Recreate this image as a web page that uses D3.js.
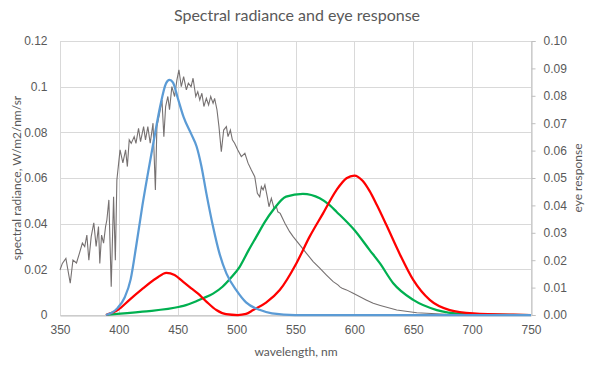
<!DOCTYPE html>
<meta charset="utf-8">
<title>Spectral radiance and eye response</title>
<style>
body {
  margin: 0px;
  background: #fff;
}
svg {
  font-family: Lato, "Open Sans", sans-serif;
}
.grid line {
  stroke: #d9d9d9;
  stroke-width: 1;
}
.tick text {
  fill: #595959;
  font-size: 12px;
}
.label {
  fill: #595959;
  font-size: 12px;
}
</style>

<script src="https://d3js.org/d3.v7.min.js"></script>

<body>
<script>
var width = 595, height = 368;
var margin = {top: 41, right: 64, bottom: 53, left: 60};

// solar spectrum, [wavelength nm, W/m2/nm/sr]
var radiance = [
  [350,0.0197],[352,0.0226],[355,0.0248],[358.7,0.0139],[361,0.0241],[364,0.0228],
  [366.6,0.0272],[369,0.0315],[371,0.030],[372.8,0.035],[374.5,0.024],[376.5,0.0343],
  [378.7,0.0404],[380.7,0.030],[382.7,0.0387],[383.8,0.0226],[385.3,0.035],[387,0.0315],
  [388.7,0.0387],[389.8,0.0416],[391.5,0.0504],[393.5,0.0124],[395.5,0.0518],[397,0.024],
  [398.3,0.0591],[399.5,0.065],[401,0.0723],[403.4,0.0666],[405.7,0.0723],[407.2,0.065],
  [408.8,0.0767],[410.5,0.0752],[411.8,0.0767],[413,0.0781],[414.5,0.0752],[416.7,0.0818],
  [418.4,0.0759],[421,0.0825],[422.6,0.0767],[424.6,0.0825],[426.6,0.0752],[429,0.084],
  [431,0.0548],[432.3,0.0825],[434.6,0.0884],[436.6,0.0942],[438.2,0.0781],[439.7,0.0913],
  [441.6,0.0957],[443,0.0899],[445,0.1],[447.3,0.0957],[449.3,0.103],[451,0.1074],
  [453,0.1],[455,0.1044],[457.3,0.0986],[459,0.1015],[461.3,0.1],[463,0.1037],
  [465.3,0.0957],[467,0.0978],[468.7,0.0942],[470.5,0.0971],[472.2,0.0913],[474.3,0.0949],
  [476.2,0.092],[478,0.0957],[480,0.0927],[481.3,0.0949],[483.3,0.0899],[485,0.0825],
  [487,0.0715],[489,0.081],[491.3,0.0825],[492.7,0.0781],[494.7,0.081],[496.4,0.0767],
  [498.3,0.0752],[501,0.0723],[504,0.0694],[507,0.0708],[509.7,0.0665],[512.5,0.0635],
  [515.4,0.0606],[517.6,0.0533],[519.6,0.0518],[521,0.0562],[522.5,0.0548],[524,0.057],
  [526,0.0518],[527.5,0.0474],[529.5,0.0511],[531.8,0.0467],[533.8,0.0474],[535,0.0452],
  [537,0.0445],[541,0.0402],[545,0.0365],[548,0.0343],[553.6,0.0307],[559.3,0.027],
  [565,0.0234],[570.6,0.0205],[576.3,0.0175],[582,0.0146],[586,0.0132],[588,0.0122],
  [589.6,0.0117],[593.3,0.011],[599,0.0095],[610,0.0066],[616,0.0051],[622,0.0042],
  [636,0.0022],[653,0.001],[678,0.0003],[707,0.0001],[740,0.0]
];

// eye response curves, [wavelength nm, response]
var blueResp = [
  [389,0],[394,0.0008],[399,0.0026],[405,0.0065],[410,0.013],[415,0.026],[420,0.040],
  [425,0.0525],[430,0.0645],[435,0.076],[440,0.0845],[443,0.0858],[446,0.0848],[450,0.0792],
  [455,0.0722],[461.5,0.066],[466,0.0615],[470,0.0545],[474.3,0.0444],[480,0.0322],
  [485.6,0.0222],[491.3,0.0152],[500,0.0089],[508,0.0046],[520,0.0018],[530,0.0006],
  [550,0],[750,0]
];
var redResp = [
  [389,0],[399,0.0018],[409,0.0055],[420.4,0.0097],[431.8,0.0134],[440.3,0.0154],
  [447.3,0.0146],[454.4,0.0122],[461.5,0.0097],[467,0.0079],[474.3,0.0049],[482.8,0.0018],
  [491,0.0003],[501,0],[508,0.0004],[514,0.0018],[525,0.0045],[536.6,0.0091],[550.8,0.0189],
  [562,0.0286],[573.4,0.0371],[584.8,0.0456],[593.3,0.0499],[600,0.0509],[607,0.0490],
  [613,0.0452],[619,0.0402],[627,0.0330],[638.6,0.0222],[650,0.0128],[664,0.0055],
  [681,0.0018],[701,0.0006],[735,0.0001],[750,0]
];
var greenResp = [
  [389,0],[420,0.0012],[451.6,0.003],[457,0.0036],[471.4,0.0061],[480,0.0078],[488,0.0103],
  [495,0.0135],[502.6,0.0176],[510,0.0235],[516.8,0.0286],[524,0.034],[531,0.0383],
  [542,0.0432],[556.3,0.0442],[570.6,0.0426],[579,0.0401],[584.8,0.0377],[600,0.031],
  [613,0.0237],[621.6,0.0189],[633,0.0116],[650,0.0055],[670,0.0018],[692,0.0004],
  [717,0.0001],[750,0]
];

var xTicks = d3.range(350, 751, 50);
var yLeftTicks = d3.range(0, 0.1201, 0.02);
var yRightTicks = d3.range(0, 0.1001, 0.01);

var svg = d3.select("body").append("svg")
    .attr("width", width)
    .attr("height", height);

var x = d3.scaleLinear().domain([350, 750]).range([margin.left, width - margin.right]);
var yL = d3.scaleLinear().domain([0, 0.12]).range([height - margin.bottom, margin.top]);
var yR = d3.scaleLinear().domain([0, 0.10]).range([height - margin.bottom, margin.top]);

// gridlines
var grid = svg.append("g").attr("class", "grid");
grid.selectAll("line.h")
    .data(yLeftTicks)
  .enter().append("line")
    .attr("x1", x(350)).attr("x2", x(750))
    .attr("y1", function(d) { return Math.round(yL(d)) + 0.5; })
    .attr("y2", function(d) { return Math.round(yL(d)) + 0.5; });
grid.selectAll("line.v")
    .data(xTicks)
  .enter().append("line")
    .attr("y1", yL(0)).attr("y2", yL(0.12))
    .attr("x1", function(d) { return Math.round(x(d)) + 0.5; })
    .attr("x2", function(d) { return Math.round(x(d)) + 0.5; });

// axes
var fmtL = function(d) { return d === 0 ? "0" : d3.format("~g")(+d.toFixed(2)); };
var axL = svg.append("g")
    .attr("transform", "translate(" + (margin.left - 0.5) + ",0)")
    .call(d3.axisLeft(yL).tickValues(yLeftTicks).tickSize(0).tickPadding(12).tickFormat(fmtL));
axL.select(".domain").remove();

var axR = svg.append("g")
    .attr("transform", "translate(" + (Math.round(x(750)) + 0.5) + ",0)")
    .call(d3.axisRight(yR).tickValues(yRightTicks).tickSize(4).tickPadding(8).tickFormat(d3.format(".2f")));
axR.select(".domain").attr("stroke", "#bfbfbf");
axR.selectAll(".tick line").attr("stroke", "#bfbfbf");

var axB = svg.append("g")
    .attr("transform", "translate(0," + (Math.round(yL(0)) + 0.5) + ")")
    .call(d3.axisBottom(x).tickValues(xTicks).tickSize(0).tickPadding(10));
axB.select(".domain").attr("stroke", "#bfbfbf");

// series
var lineL = d3.line()
    .x(function(d) { return x(d[0]); })
    .y(function(d) { return yL(d[1]); });
var lineR = d3.line()
    .curve(d3.curveMonotoneX)
    .x(function(d) { return x(d[0]); })
    .y(function(d) { return yR(d[1]); });

svg.append("path")
    .datum(radiance)
    .attr("d", lineL)
    .attr("fill", "none")
    .attr("stroke", "#767171")
    .attr("stroke-width", 1.1);

var eye = [[greenResp, "#00b050"], [redResp, "#ff0000"], [blueResp, "#5b9bd5"]];
svg.selectAll("path.eye")
    .data(eye)
  .enter().append("path")
    .attr("class", "eye")
    .attr("d", function(d) { return lineR(d[0]); })
    .attr("fill", "none")
    .attr("stroke", function(d) { return d[1]; })
    .attr("stroke-width", 2.25);

// titles
svg.append("text")
    .attr("x", 297).attr("y", 21)
    .attr("text-anchor", "middle")
    .style("font-size", "16px")
    .style("fill", "#595959")
    .text("Spectral radiance and eye response");
svg.append("text")
    .attr("class", "label")
    .attr("x", 296).attr("y", 356)
    .attr("text-anchor", "middle")
    .text("wavelength, nm");
svg.append("text")
    .attr("class", "label")
    .attr("transform", "translate(21," + yL(0.06) + ") rotate(-90)")
    .attr("text-anchor", "middle")
    .text("spectral radiance, W/m2/nm/sr");
svg.append("text")
    .attr("class", "label")
    .attr("transform", "translate(582," + yL(0.06) + ") rotate(-90)")
    .attr("text-anchor", "middle")
    .text("eye response");
</script>
